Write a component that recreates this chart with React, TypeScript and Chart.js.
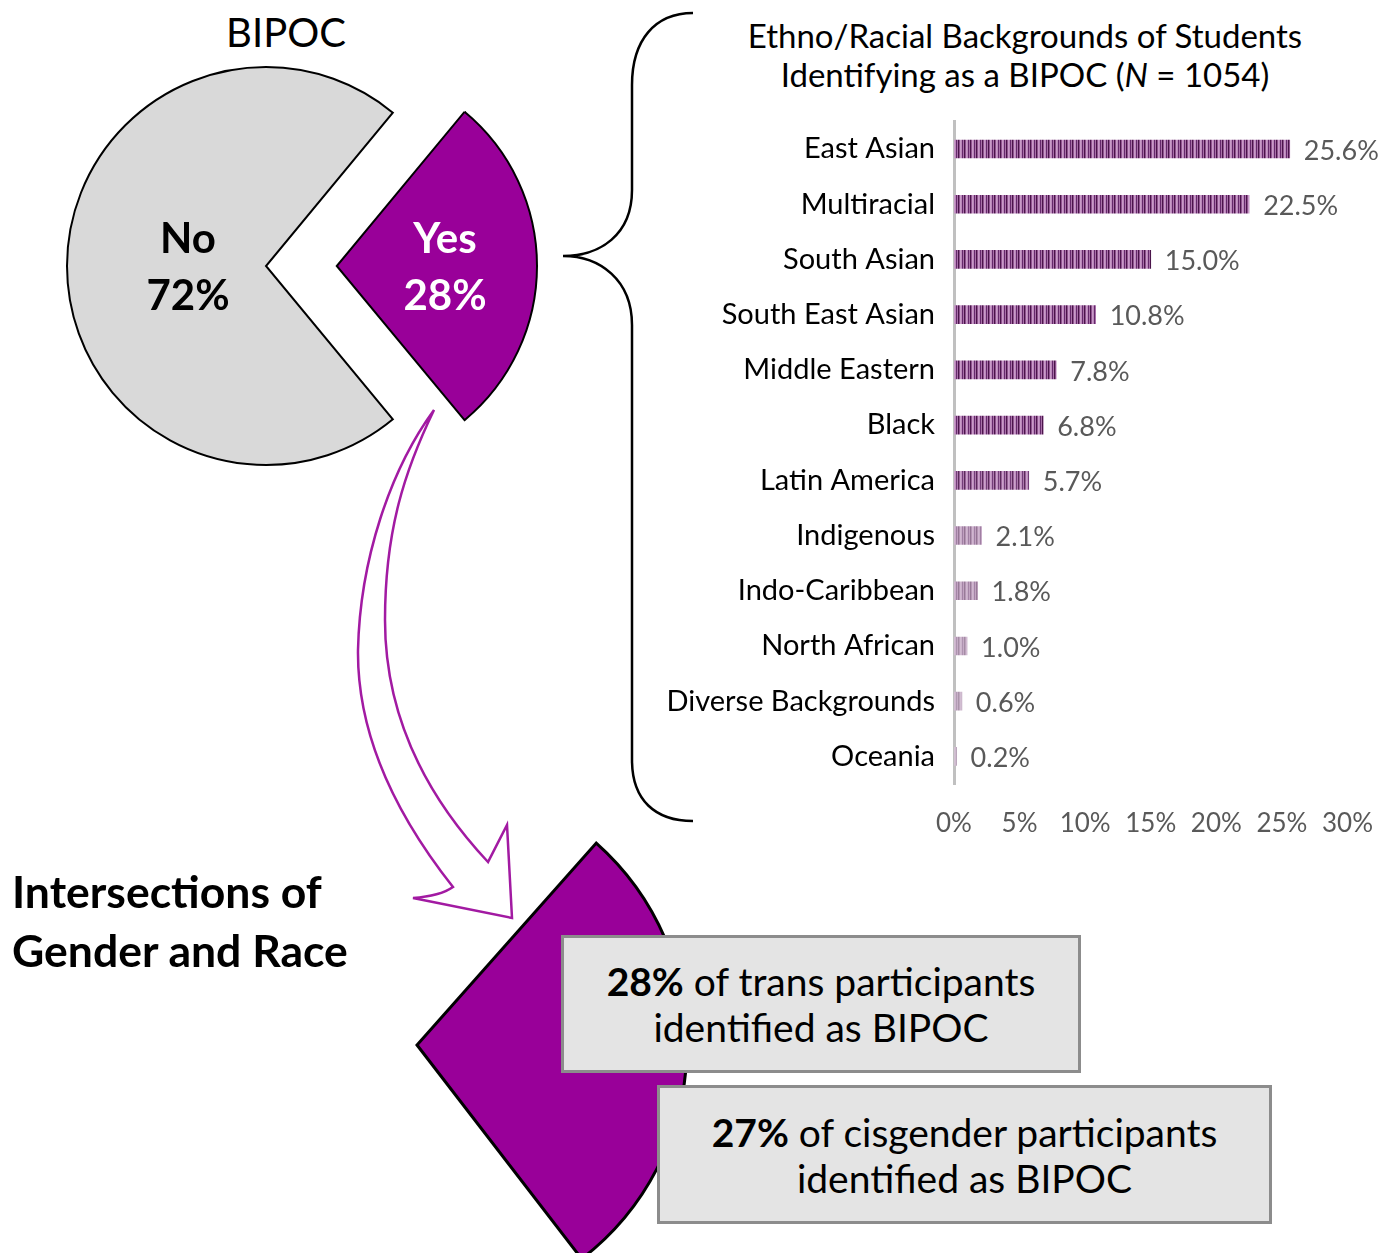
import React, { useEffect, useRef } from 'react';
import { Chart, registerables } from 'chart.js';

Chart.register(...registerables);

// ---- data ----
const pieLabels = ['Yes', 'No'];
const pieValues = [28, 72];
const pieColors = ['#990099', '#d9d9d9'];

const categories = [
  'East Asian',
  'Multiracial',
  'South Asian',
  'South East Asian',
  'Middle Eastern',
  'Black',
  'Latin America',
  'Indigenous',
  'Indo-Caribbean',
  'North African',
  'Diverse Backgrounds',
  'Oceania',
];
const values = [25.6, 22.5, 15.0, 10.8, 7.8, 6.8, 5.7, 2.1, 1.8, 1.0, 0.6, 0.2];
const xTicks = [0, 5, 10, 15, 20, 25, 30];

const FONT = 'Lato, "Open Sans", sans-serif';

function stripePattern(ctx: CanvasRenderingContext2D, alpha: number) {
  const c = document.createElement('canvas');
  const stripes = ['#4a154a', '#8f528f', '#c99bc9', '#ba88ba', '#66296c', '#a970a9'];
  c.width = stripes.length;
  c.height = 4;
  const g = c.getContext('2d')!;
  g.fillStyle = '#d6cfd6';
  g.fillRect(0, 0, c.width, c.height);
  g.globalAlpha = alpha;
  stripes.forEach((col, i) => {
    g.fillStyle = col;
    g.fillRect(i, 0, 1, c.height);
  });
  return ctx.createPattern(c, 'repeat')!;
}

const valueLabelPlugin = {
  id: 'valueLabels',
  afterDatasetsDraw(chart: any) {
    const ctx = chart.ctx;
    const meta = chart.getDatasetMeta(0);
    ctx.save();
    ctx.font = `27px ${FONT}`;
    ctx.fillStyle = '#595959';
    ctx.textAlign = 'left';
    ctx.textBaseline = 'middle';
    meta.data.forEach((bar: any, i: number) => {
      ctx.fillText(values[i].toFixed(1) + '%', bar.x + 14, bar.y + 2);
    });
    ctx.restore();
  },
};

function TopPie() {
  const ref = useRef<HTMLCanvasElement>(null);
  useEffect(() => {
    const chart = new Chart(ref.current!, {
      type: 'pie',
      data: {
        labels: pieLabels,
        datasets: [
          {
            data: pieValues,
            backgroundColor: pieColors,
            borderColor: '#000000',
            borderWidth: 2,
            borderJoinStyle: 'miter',
            offset: [283, 0],
            radius: 199,
          } as any,
        ],
      },
      options: {
        animation: false,
        responsive: false,
        events: [],
        rotation: 39.6,
        radius: 199,
        layout: { padding: { right: 60 } },
        plugins: { legend: { display: false }, tooltip: { enabled: false } },
      } as any,
    });
    return () => chart.destroy();
  }, []);
  return (
    <canvas
      ref={ref}
      width={500}
      height={440}
      style={{ position: 'absolute', left: 46, top: 46 }}
    />
  );
}

function BottomPie() {
  const ref = useRef<HTMLCanvasElement>(null);
  useEffect(() => {
    const chart = new Chart(ref.current!, {
      type: 'pie',
      data: {
        labels: pieLabels,
        datasets: [
          {
            data: pieValues,
            backgroundColor: [pieColors[0], 'rgba(0,0,0,0)'],
            borderColor: ['#000000', 'rgba(0,0,0,0)'],
            borderWidth: [3, 0],
            borderJoinStyle: 'miter',
            radius: 270,
          } as any,
        ],
      },
      options: {
        animation: false,
        responsive: false,
        events: [],
        rotation: 41.6,
        radius: 270,
        plugins: { legend: { display: false }, tooltip: { enabled: false } },
      } as any,
    });
    return () => chart.destroy();
  }, []);
  return (
    <canvas
      ref={ref}
      width={560}
      height={560}
      style={{ position: 'absolute', left: 137, top: 765 }}
    />
  );
}

function BarChart() {
  const ref = useRef<HTMLCanvasElement>(null);
  useEffect(() => {
    const chart = new Chart(ref.current!, {
      type: 'bar',
      data: {
        labels: categories,
        datasets: [
          {
            data: values,
            backgroundColor: (c: any) =>
              stripePattern(c.chart.ctx, Math.min(1, 0.25 + (c.raw as number) * 0.11)),
            barThickness: 18,
          } as any,
        ],
      },
      options: {
        indexAxis: 'y',
        animation: false,
        responsive: false,
        events: [],
        layout: { padding: { top: 5, right: 47, left: 0, bottom: 0 } },
        scales: {
          x: {
            min: 0,
            max: 30,
            afterBuildTicks: (s: any) => {
              s.ticks = xTicks.map((v) => ({ value: v }));
            },
            ticks: {
              callback: (v: any) => v + '%',
              color: '#595959',
              font: { family: FONT, size: 26 },
              padding: 24,
              maxRotation: 0,
              autoSkip: false,
            },
            grid: { display: false, drawTicks: false },
            border: { display: false },
            afterFit: (s: any) => {
              s.height = 50;
            },
          },
          y: {
            ticks: {
              color: '#000000',
              font: { family: FONT, size: 29 },
              padding: 19,
              autoSkip: false,
            },
            grid: { display: false, drawTicks: false },
            border: { display: true, color: '#c0c0c0', width: 3 },
            afterFit: (s: any) => {
              s.width = 314;
            },
          },
        },
        plugins: { legend: { display: false }, tooltip: { enabled: false } },
      } as any,
      plugins: [valueLabelPlugin],
    });
    return () => chart.destroy();
  }, []);
  return (
    <canvas
      ref={ref}
      width={757}
      height={749}
      style={{ position: 'absolute', left: 640, top: 85 }}
    />
  );
}

function CText(props: {
  x: number;
  y: number;
  size: number;
  bold?: boolean;
  color?: string;
  children: React.ReactNode;
}) {
  return (
    <div
      style={{
        position: 'absolute',
        left: props.x,
        top: props.y,
        transform: 'translate(-50%, -50%)',
        fontSize: props.size,
        fontWeight: props.bold ? 700 : 400,
        color: props.color || '#000',
        lineHeight: 1,
        whiteSpace: 'nowrap',
        fontFamily: FONT,
      }}
    >
      {props.children}
    </div>
  );
}

function Decorations() {
  const brace =
    'M 693 13 C 655 13, 632 40, 632 85 L 632 190 C 632 235, 600 256, 563 256 ' +
    'C 600 256, 632 280, 632 325 L 632 760 C 632 800, 655 821, 693 821';
  const arrow =
    'M 434 410 C 390 470, 360 560, 358 650 C 357 740, 400 820, 453 887 ' +
    'Q 440 896, 413 898 L 512 918 L 507 825 L 488 862 ' +
    'C 430 800, 385 720, 385 620 C 385 530, 405 470, 434 410 Z';
  return (
    <svg
      width={1397}
      height={1253}
      style={{ position: 'absolute', left: 0, top: 0, pointerEvents: 'none' }}
    >
      <path d={brace} fill="none" stroke="#000" strokeWidth={2.5} />
      <path d={arrow} fill="none" stroke="#a21aa2" strokeWidth={2.5} strokeLinejoin="miter" />
    </svg>
  );
}

const boxStyle: React.CSSProperties = {
  position: 'absolute',
  boxSizing: 'border-box',
  background: '#e4e4e4',
  border: '3px solid #8c8c8c',
  display: 'flex',
  alignItems: 'center',
  justifyContent: 'center',
  textAlign: 'center',
  fontFamily: FONT,
  fontSize: 39,
  lineHeight: '46px',
  color: '#000',
};

export default function App() {
  return (
    <div
      style={{
        position: 'absolute',
        left: 0,
        top: 0,
        width: 1397,
        height: 1253,
        overflow: 'hidden',
        background: '#fff',
        fontFamily: FONT,
      }}
    >
      <CText x={286} y={32} size={40}>BIPOC</CText>
      <TopPie />
      <CText x={188} y={237} size={42} bold>No</CText>
      <CText x={188} y={294} size={42} bold>72%</CText>
      <CText x={445} y={237} size={42} bold color="#ffffff">Yes</CText>
      <CText x={445} y={294} size={42} bold color="#ffffff">28%</CText>

      <CText x={1025} y={35} size={33}>Ethno/Racial Backgrounds of Students</CText>
      <CText x={1025} y={74} size={33}>
        Identifying as a BIPOC (<i>N</i> = 1054)
      </CText>
      <BarChart />

      <BottomPie />
      <Decorations />

      <div
        style={{
          position: 'absolute',
          left: 12,
          top: 861,
          fontSize: 44.5,
          fontWeight: 700,
          lineHeight: '59px',
          fontFamily: FONT,
          whiteSpace: 'nowrap',
        }}
      >
        Intersections of
        <br />
        Gender and Race
      </div>

      <div style={{ ...boxStyle, left: 561, top: 935, width: 520, height: 138 }}>
        <div>
          <b>28%</b> of trans participants
          <br />
          identified as BIPOC
        </div>
      </div>
      <div style={{ ...boxStyle, left: 657, top: 1085, width: 615, height: 139 }}>
        <div>
          <b>27%</b> of cisgender participants
          <br />
          identified as BIPOC
        </div>
      </div>
    </div>
  );
}
